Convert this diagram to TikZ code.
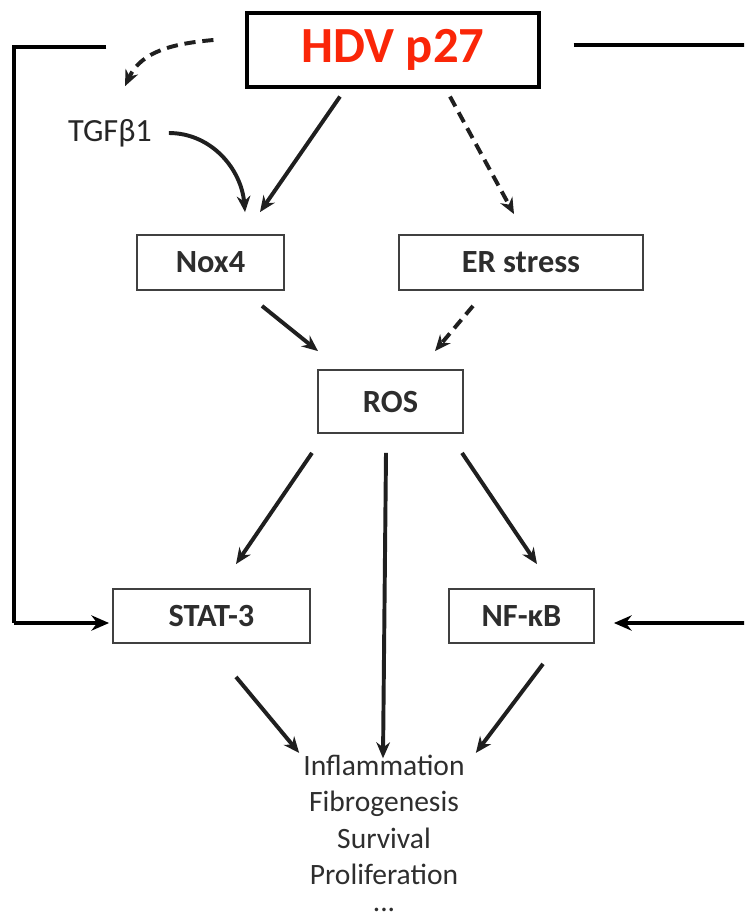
\documentclass[tikz,border=0pt]{standalone}
\usepackage{fontspec}
\setmainfont{Carlito}
\usetikzlibrary{positioning,arrows.meta,calc}
\definecolor{hdvred}{RGB}{250,38,8}
\definecolor{boxtext}{RGB}{45,45,45}

\begin{document}
\begin{tikzpicture}[x=0.025cm,y=-0.025cm,
    box/.style={draw=black!75,line width=1.3pt,fill=white,font=\fontsize{23}{27}\selectfont\bfseries,text=boxtext},
    arrow/.style={-{Stealth[length=0.4cm,width=0.34cm]},line width=2.8pt,black!88},
    dasharrow/.style={arrow,dash pattern=on 0.28cm off 0.17cm},
    feed/.style={line width=3.4pt,black},
    outtext/.style={font=\fontsize{21}{25}\selectfont,text=black!82,anchor=base,inner sep=0pt},
]
\useasboundingbox (0,0) rectangle (744,915);
\clip (0,0) rectangle (744,915);
% main boxes
\node[draw=black,line width=2.2pt,minimum width=7.3cm,minimum height=1.85cm,
      font=\fontsize{36}{40}\selectfont\bfseries,text=hdvred] (hdv) at (393,50) {HDV p27};
\node[box,minimum width=3.675cm,minimum height=1.375cm] (nox) at (210.5,262.5) {Nox4};
\node[box,minimum width=6.1cm,minimum height=1.375cm]   (er)  at (521,262.5) {ER stress};
\node[box,minimum width=3.625cm,minimum height=1.575cm] (ros) at (390.5,401.5) {ROS};
\node[box,minimum width=4.925cm,minimum height=1.35cm]  (stat) at (211.5,616) {STAT-3};
\node[box,minimum width=3.625cm,minimum height=1.35cm]  (nfkb) at (521.5,616) {NF-κB};
\node[font=\fontsize{23}{27}\selectfont,text=black!85] (tgf) at (110,133) {TGFβ1};
% outcomes
\node[outtext] (out1) at (384,775) {Inflammation};
\node[outtext] (out2) at (384,811.5) {Fibrogenesis};
\node[outtext] (out3) at (384,848) {Survival};
\node[outtext] (out4) at (384,884.5) {Proliferation};
\node[outtext] (out5) at (384,911) {...};
% feedback lines round the sides
\coordinate (lt) at (14,47);
\coordinate (lb) at (14,623);
\coordinate (rt) at (770,45);
\coordinate (rb) at (770,623);
\draw[feed] ($(hdv.west)+(-139,-3)$) -- (lt) -- (lb);
\draw[feed,-{Stealth[length=0.44cm,width=0.38cm]}] (lb) -- ($(stat.west)+(-3,7)$);
\draw[feed] ($(hdv.east)+(33,-5)$) -- (rt) -- (rb);
\draw[feed,-{Stealth[length=0.44cm,width=0.38cm]}] (rb) -- ($(nfkb.east)+(19,7)$);
% top
\draw[dasharrow] ($(hdv.west)+(-32,-10)$) to[out=185,in=65] ($(tgf.north)+(15,-28)$);
\draw[arrow] ($(tgf.east)+(12,0)$) to[out=0,in=95] ($(nox.north)+(34.5,-22)$);
\draw[arrow] ($(hdv.south)+(-53,8)$) -- ($(nox.north)+(49.5,-22)$);
\draw[dasharrow] ($(hdv.south)+(57,8)$) -- ($(er.north)+(-7,-20)$);
% into ROS
\draw[arrow] ($(nox.south)+(51.5,15)$) -- ($(ros.north)+(-72.5,-18)$);
\draw[dasharrow] ($(er.south)+(-48,15)$) -- ($(ros.north)+(44.5,-18)$);
% out of ROS
\draw[arrow] ($(ros.south)+(-78.5,19)$) -- ($(stat.north)+(24.5,-24)$);
\draw[arrow] ($(ros.south)+(-4.5,19)$) -- ($(out1.north)+(-1,4)$);
\draw[arrow] ($(ros.south)+(71.5,19)$) -- ($(nfkb.north)+(15.5,-24)$);
% to outcomes
\draw[arrow] ($(stat.south)+(24.5,33)$) -- ($(out1.west)+(-4,-12)$);
\draw[arrow] ($(nfkb.south)+(21.5,20)$) -- ($(out1.east)+(11,-12)$);
\end{tikzpicture}
\end{document}
